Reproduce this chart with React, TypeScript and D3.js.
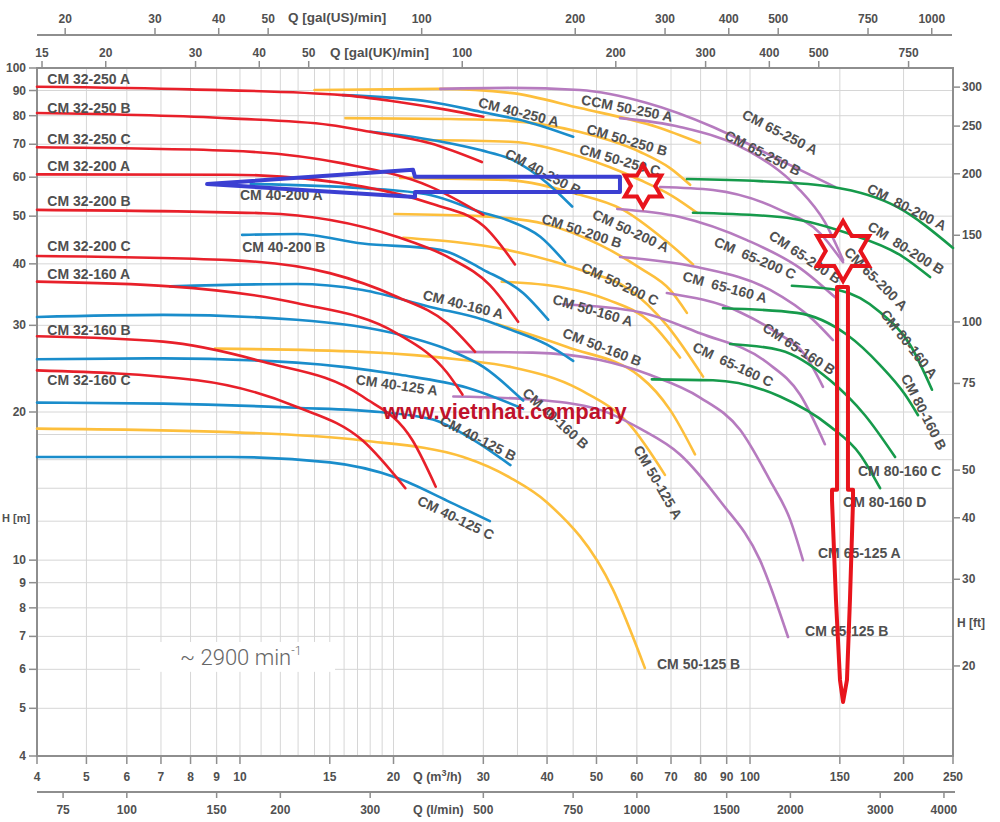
import React from "react";
import * as d3 from "d3";

type P = [number, number];

// ---------- axis values ----------
const qTicks = [4, 5, 6, 7, 8, 9, 10, 15, 20, 30, 40, 50, 60, 70, 80, 90, 100, 150, 200, 250];
const lminTicks = [75, 100, 150, 200, 300, 500, 750, 1000, 1500, 2000, 3000, 4000];
const usTicks = [20, 30, 40, 50, 100, 200, 300, 400, 500, 750, 1000];
const ukTicks = [15, 20, 30, 40, 50, 100, 200, 300, 400, 500, 750];
const hTicks = [4, 5, 6, 7, 8, 9, 10, 20, 30, 40, 50, 60, 70, 80, 90, 100];
const ftTicks = [20, 30, 40, 50, 75, 100, 150, 200, 250, 300];
const qGrid = [4, 5, 6, 7, 8, 9, 10, 11, 12, 13, 14, 15, 16, 17, 18, 19, 20, 25, 30, 35, 40, 45, 50, 60, 70, 80, 90, 100, 150, 200, 250];
const hGrid = [4, 5, 6, 7, 8, 9, 10, 12, 14, 16, 18, 20, 30, 40, 50, 60, 70, 80, 90, 100];

const US_PER_M3H = 4.40287;
const UK_PER_M3H = 3.66615;
const LMIN_PER_M3H = 16.6667;
const M_PER_FT = 0.3048;

// ---------- curves [Q m3/h, H m] ----------
// CM 32 (red)
const cm32_250A: P[] = [[4, 91.6], [7.98, 90.5], [15.9, 88.1], [20.3, 85.4], [25.5, 82.2], [30.0, 79.6]];
const cm32_250B: P[] = [[4, 81.0], [9.56, 79.0], [15.0, 76.6], [18.0, 74.2], [23.6, 70.3], [29.8, 64.4]];
const cm32_250C: P[] = [[4, 69.0], [9.56, 67.9], [15.9, 64.0], [23.6, 57.4], [30.0, 50.3]];
const cm32_200A: P[] = [[4, 60.8], [9.56, 60.7], [17.4, 57.4], [23.6, 53.1], [30.0, 47.8], [34.6, 39.9]];
const cm32_200B: P[] = [[4, 51.5], [11.1, 50.7], [20.3, 45.4], [25.8, 41.1], [30.9, 36.2], [35.1, 30.5]];
const cm32_200C: P[] = [[4, 41.5], [9.56, 40.7], [15.0, 38.3], [20.3, 34.3], [25.5, 30.3], [28.9, 26.5]];
const cm32_160A: P[] = [[4, 36.8], [7.29, 36.0], [12.9, 33.3], [20.3, 28.9], [25.5, 24.0], [27.3, 21.7]];
const cm32_160B: P[] = [[4, 28.5], [7.07, 27.8], [11.1, 25.3], [17.4, 21.5], [21.8, 17.5], [24.2, 14.1]];
const cm32_160C: P[] = [[4, 24.3], [8.24, 23.2], [12.9, 20.5], [17.4, 17.5], [21.1, 14.0]];

// CM 40 (blue)
const cm40_250A: P[] = [[15.9, 88.1], [23.6, 85.4], [29.6, 81.5], [36.5, 77.8], [45.0, 72.5]];
const cm40_250B: P[] = [[18.0, 74.2], [22.5, 72.1], [29.6, 68.1], [34.3, 65.0], [40.0, 58.4], [44.8, 52.3]];
const cm40_200A: P[] = [[10.5, 58.1], [17.4, 57.0], [23.6, 55.2], [29.6, 51.0], [33.4, 49.1], [38.8, 45.4], [43.4, 40.3]];
const cm40_200B: P[] = [[10.1, 45.8], [12.9, 46.0], [17.4, 44.0], [24.7, 42.7], [30.0, 38.9], [35.9, 34.9], [40.2, 30.8]];
const cm40_160A: P[] = [[7.29, 36.0], [12.9, 36.4], [17.4, 35.4], [23.6, 32.7], [30.0, 30.8], [33.9, 29.4], [40.0, 27.4], [45.0, 25.4]];
const cm40_160B: P[] = [[4, 31.2], [7.07, 31.5], [12.9, 30.8], [20.6, 28.7], [26.2, 26.5], [30.0, 24.7], [35.9, 21.1]];
const cm40_125A: P[] = [[4, 25.6], [7.07, 25.7], [12.9, 25.2], [20.6, 23.8], [27.9, 22.4], [35.9, 20.3]];
const cm40_125B: P[] = [[4, 20.9], [7.07, 20.8], [12.9, 20.4], [18.8, 20.0], [23.9, 19.3], [28.3, 17.7], [33.9, 15.6]];
const cm40_125C: P[] = [[4, 16.2], [9.56, 16.2], [15.0, 15.8], [20.3, 14.7], [25.5, 13.2], [30.9, 12.0]];

// CM 50 (yellow)
const cm50_250A: P[] = [[14.0, 90.2], [24.7, 90.7], [33.9, 89.0], [46.4, 82.9], [65.7, 75.9], [79.8, 70.4]];
const cm50_250B: P[] = [[16.1, 79.1], [25.8, 78.8], [33.9, 78.1], [46.4, 74.1], [60.9, 67.5], [69.7, 62.6], [76.3, 57.9]];
const cm50_250C: P[] = [[22.8, 71.4], [33.9, 70.8], [46.4, 66.0], [60.9, 59.2], [70.3, 55.0], [78.7, 50.8]];
const cm50_200A: P[] = [[20.6, 59.8], [33.4, 59.2], [45.0, 55.7], [56.4, 51.5], [68.1, 44.7], [77.3, 39.9]];
const cm50_200B: P[] = [[20.1, 50.5], [29.6, 50.0], [39.6, 48.2], [50.8, 43.7], [60.9, 39.2], [69.7, 35.4], [75.2, 31.8]];
const cm50_200C: P[] = [[20.9, 45.2], [33.4, 42.7], [46.4, 38.9], [58.2, 35.4], [68.7, 30.0], [80.9, 23.6]];
const cm50_160A: P[] = [[32.6, 36.8], [42.4, 35.9], [52.7, 33.8], [63.6, 30.5], [72.9, 25.8]];
const cm50_160B: P[] = [[31.9, 30.2], [43.8, 27.1], [60.9, 23.6], [69.7, 20.2], [78.0, 16.4]];
const cm50_125A: P[] = [[8.93, 26.9], [17.4, 26.5], [27.4, 25.5], [33.9, 24.7], [46.4, 22.2], [58.2, 18.8], [68.1, 14.9]];
const cm50_125B: P[] = [[4, 18.5], [9.56, 18.2], [17.4, 17.5], [27.4, 16.2], [33.9, 14.7], [40.0, 13.1], [53.9, 8.7], [62.2, 6.04]];

// CM 65 (purple)
const cm65_250A: P[] = [[24.7, 90.7], [33.9, 91.1], [46.4, 90.2], [62.8, 84.9], [84.6, 75.9], [114.5, 65.0], [146.8, 57.3]];
const cm65_250B: P[] = [[55.6, 79.1], [72.9, 75.9], [98.6, 68.1], [123.6, 57.3], [140.2, 48.6], [152.2, 40.7]];
const cm65_200A: P[] = [[66.6, 57.3], [84.6, 56.5], [114.5, 51.5], [137.1, 46.2], [152.2, 40.3]];
const cm65_200B: P[] = [[54.9, 51.7], [72.9, 49.8], [98.6, 44.7], [125.3, 39.2], [146.8, 34.2]];
const cm65_200C: P[] = [[55.6, 41.3], [78.7, 39.4], [109.5, 35.4], [132.9, 30.8], [145.4, 28.0]];
const cm65_160A: P[] = [[68.7, 34.9], [95.6, 31.9], [112.0, 29.1], [128.2, 26.1], [139.0, 22.5]];
const cm65_160B: P[] = [[43.0, 33.1], [60.9, 31.9], [79.8, 28.9], [108.0, 25.2], [125.3, 21.7], [140.2, 17.2]];
const cm65_125A: P[] = [[26.2, 26.5], [37.5, 26.4], [50.8, 25.5], [63.6, 23.8], [79.8, 21.4], [95.6, 18.4], [109.5, 14.5], [119.8, 12.1], [127.0, 10.0]];
const cm65_125B: P[] = [[26.2, 21.5], [37.5, 21.2], [50.8, 20.2], [60.9, 18.5], [72.9, 16.4], [87.3, 13.2], [104.6, 10.0], [118.7, 6.98]];

// CM 80 (green)
const cm80_200A: P[] = [[75.2, 59.5], [104.6, 58.9], [145.4, 57.3], [194.2, 52.2], [250, 43.1]];
const cm80_200B: P[] = [[77.3, 50.8], [114.5, 49.8], [154.9, 46.2], [196.8, 41.7], [225.4, 37.6]];
const cm80_160A: P[] = [[120.8, 36.1], [150.1, 35.3], [179.9, 31.9], [205.9, 27.4], [227.4, 22.2]];
const cm80_160B: P[] = [[88.5, 32.5], [123.6, 31.8], [154.9, 28.7], [179.9, 24.9], [201.3, 21.7], [213.5, 19.7]];
const cm80_160C: P[] = [[91.4, 27.5], [114.5, 26.7], [143.5, 23.2], [168.0, 19.7], [192.5, 16.2]];
const cm80_160D: P[] = [[64.2, 23.3], [84.6, 23.2], [114.5, 21.5], [143.5, 18.7], [164.3, 16.4], [179.9, 14.0]];

const RED = "#e8202a";
const BLUE = "#1a8dcb";
const YEL = "#fdbf3c";
const PUR = "#b67bbf";
const GRN = "#169a4b";

const yellowCurves = [cm50_250A, cm50_250B, cm50_250C, cm50_200A, cm50_200B, cm50_200C, cm50_160A, cm50_160B, cm50_125A, cm50_125B];
const purpleCurves = [cm65_250A, cm65_250B, cm65_200A, cm65_200B, cm65_200C, cm65_160A, cm65_160B, cm65_125A, cm65_125B];
const greenCurves = [cm80_200A, cm80_200B, cm80_160A, cm80_160B, cm80_160C, cm80_160D];
const blueCurves = [cm40_250A, cm40_250B, cm40_200A, cm40_200B, cm40_160A, cm40_160B, cm40_125A, cm40_125B, cm40_125C];
const redCurves = [cm32_250A, cm32_250B, cm32_250C, cm32_200A, cm32_200B, cm32_200C, cm32_160A, cm32_160B, cm32_160C];

// ---------- labels ----------
const flatLabels: [string, number, number][] = [
  ["CM 32-250 A", 4.19, 92.8],
  ["CM 32-250 B", 4.19, 81.1],
  ["CM 32-250 C", 4.19, 70.1],
  ["CM 32-200 A", 4.19, 61.8],
  ["CM 32-200 B", 4.19, 52.4],
  ["CM 32-200 C", 4.19, 42.5],
  ["CM 32-160 A", 4.19, 37.2],
  ["CM 32-160 B", 4.19, 28.7],
  ["CM 32-160 C", 4.19, 22.7],
  ["CM 40-200 A", 10.0, 53.8],
  ["CM 40-200 B", 10.1, 42.3],
  ["CM 80-160 C", 162.8, 14.8],
  ["CM 80-160 D", 152.2, 12.8],
  ["CM 65-125 A", 135.9, 10.1],
  ["CM 65-125 B", 128.2, 7.01],
  ["CM 50-125 B", 65.7, 6.01],
];

const tiltLabels: [string, number, number, number][] = [
  ["CM 40-250 A", 35.2, 81.4, 14],
  ["CCM 50-250 A", 57.4, 82.9, 11],
  ["CM 50-250 B", 57.4, 71.4, 16],
  ["CM 50-250 C", 55.6, 65.0, 16],
  ["CM 40-250 B", 39.3, 61.5, 28],
  ["CM 65-250 A", 114.5, 74.1, 27],
  ["CM 65-250 B", 106.0, 67.2, 27],
  ["CM  80-200 A", 203.1, 52.2, 27],
  ["CM  80-200 B", 202.2, 43.1, 32],
  ["CM 50-200 A", 58.4, 46.7, 25],
  ["CM 50-200 B", 46.8, 46.7, 18],
  ["CM 50-200 C", 55.6, 36.4, 25],
  ["CM  65-200 C", 102.3, 41.1, 23],
  ["CM 65-200 B", 128.2, 41.3, 34],
  ["CM 65-200 A", 176.6, 37.3, 45],
  ["CM  65-160 A", 89.3, 35.9, 15],
  ["CM 50-160 A", 49.2, 32.2, 16],
  ["CM 50-160 B", 51.3, 27.1, 21],
  ["CM 65-160 B", 124.8, 26.9, 33],
  ["CM  65-160 C", 92.6, 25.0, 25],
  ["CM 80-160 A", 205.0, 27.5, 52],
  ["CM 80-160 B", 219.3, 20.0, 63],
  ["CM 50-125 A", 66.0, 14.4, 60],
  ["CM 40-160 A", 27.4, 33.1, 14],
  ["CM 40-125 A", 20.3, 22.7, 8],
  ["CM 40-125 B", 29.3, 17.7, 27],
  ["CM 40-125 C", 26.5, 12.2, 26],
  ["CM 40-160 B", 41.6, 19.4, 42],
];

// ---------- annotations (data coordinates) ----------
const blueArrow: P[] = [[8.62, 58.1], [21.84, 62.1], [22.04, 60.1], [55.59, 60.1], [55.59, 56.0], [22.04, 56.0], [22.04, 54.7]];
const redArrow: P[] = [[148.1, 35.9], [155.6, 35.9], [155.6, 13.9], [159.2, 13.9], [159.2, 13.2], [157.0, 8.3], [154.9, 5.71], [152.2, 5.15], [150.1, 5.71], [147.4, 8.3], [144.8, 13.2], [144.8, 13.9], [148.1, 13.9]];
const starCenters: P[] = [[61.7, 57.6], [152.2, 42.5]];
const watermarkAt: P = [19.07, 19.4];
const rpmAt: P = [7.63, 6.12];
const rpmBox: P[] = [[6.37, 6.82], [15.36, 5.93]];

const FONT = "'Liberation Sans', Arial, Helvetica, sans-serif";
const TXT = "#505050";
const AX = "#8e8e8e";

export default function App() {
  const x = d3.scaleLog().domain([4, 250]).range([37, 953]);
  const y = d3.scaleLog().domain([4, 100]).range([756, 68]);
  const line = d3
    .line<P>()
    .x((d) => x(d[0]))
    .y((d) => y(d[1]))
    .curve(d3.curveMonotoneX);

  const poly = (pts: P[]) => pts.map((p) => `${x(p[0])},${y(p[1])}`).join(" ");
  const star = (c: P, R: number) => {
    const cx = x(c[0]);
    const cy = y(c[1]);
    const r = R / Math.sqrt(3);
    const pts: string[] = [];
    for (let k = 0; k < 12; k++) {
      const ang = (-90 + k * 30) * (Math.PI / 180);
      const rad = k % 2 === 0 ? R : r;
      pts.push(`${cx + rad * Math.cos(ang)},${cy + rad * Math.sin(ang)}`);
    }
    return pts.join(" ");
  };
  const starR = [21, 30];

  const group = (curves: P[][], color: string) =>
    curves.map((c, i) => (
      <path key={color + i} d={line(c) || ""} fill="none" stroke={color} strokeWidth={2.6} strokeLinecap="round" />
    ));

  return (
    <svg
      width={1000}
      height={822}
      style={{ position: "absolute", left: 0, top: 0, background: "#fff" }}
      fontFamily={FONT}
    >
      <rect x={0} y={0} width={1000} height={822} fill="#fff" />
      {/* grid */}
      {qGrid.map((q) => (
        <line key={"gx" + q} x1={x(q)} x2={x(q)} y1={68} y2={756} stroke="#d6d6d6" strokeWidth={1} />
      ))}
      {hGrid.map((h) => (
        <line key={"gy" + h} x1={37} x2={953} y1={y(h)} y2={y(h)} stroke="#d6d6d6" strokeWidth={1} />
      ))}
      {/* rpm box */}
      <rect
        x={x(rpmBox[0][0])}
        y={y(rpmBox[0][1])}
        width={x(rpmBox[1][0]) - x(rpmBox[0][0])}
        height={y(rpmBox[1][1]) - y(rpmBox[0][1])}
        fill="#fff"
      />
      <text x={x(rpmAt[0])} y={y(rpmAt[1])} fontFamily="Roboto, 'Open Sans', sans-serif" fontWeight={300} fontSize={22} fill="#666">
        ~ 2900 min
        <tspan fontSize={12} dy={-10}>-1</tspan>
      </text>

      {/* border */}
      <rect x={37} y={68} width={916} height={688} fill="none" stroke={AX} strokeWidth={2} />

      {/* curves */}
      {group(yellowCurves, YEL)}
      {group(purpleCurves, PUR)}
      {group(greenCurves, GRN)}
      {group(blueCurves, BLUE)}
      {group(redCurves, RED)}

      {/* curve labels */}
      {flatLabels.map(([t, q, h]) => (
        <text key={t} x={x(q)} y={y(h)} fontSize={14} fontWeight="bold" fill={TXT} style={{ whiteSpace: "pre" }}>
          {t}
        </text>
      ))}
      {tiltLabels.map(([t, q, h, a]) => (
        <text
          key={t}
          transform={`translate(${x(q)},${y(h)}) rotate(${a})`}
          textAnchor="middle"
          dominantBaseline="central"
          fontSize={14}
          fontWeight="bold"
          fill={TXT}
          style={{ whiteSpace: "pre" }}
        >
          {t}
        </text>
      ))}

      {/* watermark */}
      <text x={x(watermarkAt[0])} y={y(watermarkAt[1])} fontSize={22} fontWeight="bold" fill="#c0122b" fontFamily={FONT}>
        www.vietnhat.company
      </text>

      {/* left axis H[m] */}
      {hTicks.map((h) => (
        <g key={"ht" + h}>
          <line x1={29} x2={37} y1={y(h)} y2={y(h)} stroke={AX} strokeWidth={1.5} />
          <text x={26} y={y(h) + 4} textAnchor="end" fontSize={12} fontWeight="bold" fill={TXT}>
            {h}
          </text>
        </g>
      ))}
      <text x={2} y={522} fontSize={11} fontWeight="bold" fill={TXT}>
        H [m]
      </text>

      {/* right axis H[ft] */}
      {ftTicks.map((f) => (
        <g key={"ft" + f}>
          <line x1={953} x2={960} y1={y(f * M_PER_FT)} y2={y(f * M_PER_FT)} stroke={AX} strokeWidth={1.5} />
          <text x={962} y={y(f * M_PER_FT) + 4} fontSize={12} fontWeight="bold" fill={TXT}>
            {f}
          </text>
        </g>
      ))}
      <text x={957} y={627} fontSize={12} fontWeight="bold" fill={TXT}>
        H [ft]
      </text>

      {/* bottom axis m3/h */}
      {qTicks.map((q) => (
        <g key={"qt" + q}>
          <line x1={x(q)} x2={x(q)} y1={756} y2={764} stroke={AX} strokeWidth={1.5} />
          <text x={x(q)} y={781} textAnchor="middle" fontSize={12} fontWeight="bold" fill={TXT}>
            {q}
          </text>
        </g>
      ))}
      <text x={413} y={781} fontSize={12.5} fontWeight="bold" fill={TXT}>
        Q (m<tspan fontSize={9} dy={-5}>3</tspan>
        <tspan dy={5}>/h)</tspan>
      </text>

      {/* bottom axis l/min */}
      <line x1={37} x2={955} y1={792} y2={792} stroke={AX} strokeWidth={2} />
      {lminTicks.map((v) => (
        <g key={"lt" + v}>
          <line x1={x(v / LMIN_PER_M3H)} x2={x(v / LMIN_PER_M3H)} y1={792} y2={798} stroke={AX} strokeWidth={1.5} />
          <text x={x(v / LMIN_PER_M3H)} y={814} textAnchor="middle" fontSize={12} fontWeight="bold" fill={TXT}>
            {v}
          </text>
        </g>
      ))}
      <text x={413} y={814} fontSize={12.5} fontWeight="bold" fill={TXT}>
        Q (l/min)
      </text>

      {/* top axis US gpm */}
      <line x1={37} x2={952} y1={35} y2={35} stroke={AX} strokeWidth={2} />
      {usTicks.map((v) => (
        <g key={"us" + v}>
          <line x1={x(v / US_PER_M3H)} x2={x(v / US_PER_M3H)} y1={28} y2={35} stroke={AX} strokeWidth={1.5} />
          <text x={x(v / US_PER_M3H)} y={23} textAnchor="middle" fontSize={12} fontWeight="bold" fill={TXT}>
            {v}
          </text>
        </g>
      ))}
      <text x={288} y={22} fontSize={13.5} fontWeight="bold" fill={TXT}>
        Q [gal(US)/min]
      </text>

      {/* top axis UK gpm */}
      {ukTicks.map((v) => (
        <g key={"uk" + v}>
          <line x1={x(v / UK_PER_M3H)} x2={x(v / UK_PER_M3H)} y1={61} y2={68} stroke={AX} strokeWidth={1.5} />
          <text x={x(v / UK_PER_M3H)} y={57} textAnchor="middle" fontSize={12} fontWeight="bold" fill={TXT}>
            {v}
          </text>
        </g>
      ))}
      <text x={330} y={57} fontSize={13.5} fontWeight="bold" fill={TXT}>
        Q [gal(UK)/min]
      </text>

      {/* annotations */}
      <polygon points={poly(blueArrow)} fill="none" stroke="#3b3fd2" strokeWidth={4} strokeLinejoin="round" />
      {starCenters.map((c, i) => (
        <polygon key={"st" + i} points={star(c, starR[i])} fill="none" stroke="#e8141c" strokeWidth={4} strokeLinejoin="miter" />
      ))}
      <polygon points={poly(redArrow)} fill="none" stroke="#e8141c" strokeWidth={4} strokeLinejoin="round" />
    </svg>
  );
}
